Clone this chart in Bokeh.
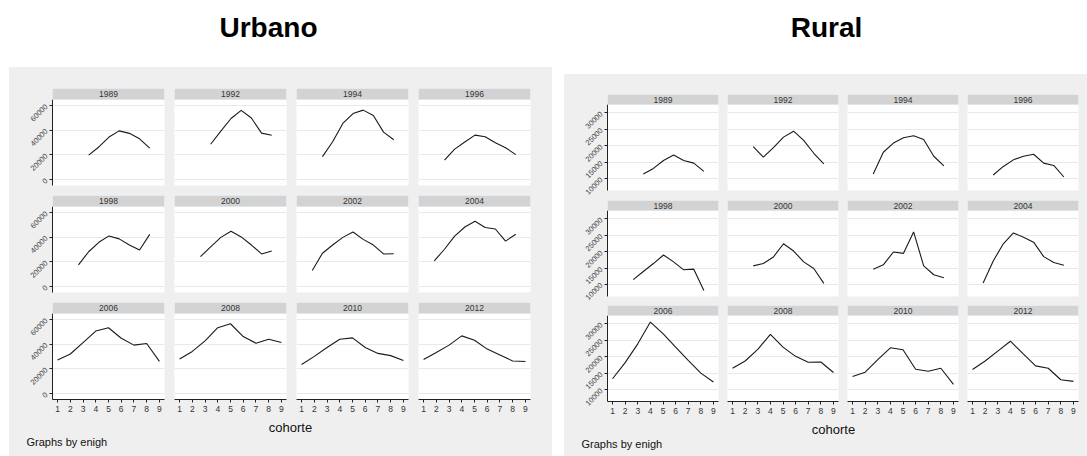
import math
from bokeh.plotting import figure
from bokeh.layouts import row, column
from bokeh.models import Range1d, FixedTicker, BoxAnnotation, Label, Spacer, LinearAxis, Grid
from bokeh.embed import file_html
from bokeh.resources import INLINE

# ---------------------------------------------------------------- data
years = ["1989", "1992", "1994", "1996", "1998", "2000",
         "2002", "2004", "2006", "2008", "2010", "2012"]

# cohort positions used by the earlier surveys and by 2006-2012
pos_early = [1.84, 2.64, 3.44, 4.24, 5.04, 5.84, 6.64, 7.44, 8.24]
pos_late = [1, 2, 3, 4, 5, 6, 7, 8, 9]

# first cohort index present in each survey (0-based)
first_urb = [2, 2, 1, 1, 1, 1, 0, 0, 0, 0, 0, 0]
first_rur = [2, 1, 1, 1, 1, 1, 1, 0, 0, 0, 0, 0]

urb_1989 = [19800, 26400, 34400, 39400, 37400, 33000, 25400]
urb_1992 = [28600, 39200, 49400, 56000, 49800, 37600, 35800]
urb_1994 = [18600, 30600, 45400, 53400, 56200, 51800, 38400, 32200]
urb_1996 = [15800, 24600, 30400, 36000, 34600, 29800, 25800, 20200]
urb_1998 = [17600, 28200, 35800, 41000, 38600, 33600, 29600, 42200]
urb_2000 = [24200, 32200, 39800, 44800, 40200, 33600, 26400, 28800]
urb_2002 = [13000, 27000, 33600, 39800, 44200, 38200, 33600, 26400, 26600]
urb_2004 = [20800, 30200, 40800, 48200, 52800, 47800, 46600, 36800, 42400]
urb_2006 = [27200, 32000, 41300, 50600, 53300, 44800, 39200, 40500, 26100]
urb_2008 = [28000, 34100, 42700, 53300, 56500, 46100, 40800, 44000, 41300]
urb_2010 = [23500, 30100, 37300, 44000, 45100, 37300, 32500, 30700, 26700]
urb_2012 = [27500, 33300, 39200, 46700, 43200, 36000, 31200, 26400, 25900]

rur_1989 = [11400, 13100, 15500, 17200, 15500, 14700, 12200]
rur_1992 = [19700, 16500, 19400, 22600, 24400, 21600, 17700, 14500]
rur_1994 = [11400, 18000, 20800, 22400, 23000, 21900, 16800, 13900]
rur_1996 = [11100, 13700, 15700, 16800, 17400, 14700, 14000, 10500]
rur_1998 = [11500, 14000, 16400, 19000, 16900, 14500, 14700, 8200]
rur_2000 = [15700, 16400, 18400, 22400, 20200, 16900, 14900, 10400]
rur_2002 = [14700, 16000, 19900, 19500, 26000, 15700, 13000, 12100]
rur_2004 = [10500, 17200, 22400, 25700, 24400, 22900, 18500, 16700, 15900]
rur_2006 = [13300, 18200, 23900, 30500, 27000, 22900, 18900, 15000, 12300]
rur_2008 = [16500, 18700, 22200, 26800, 22900, 20100, 18300, 18400, 15200]
rur_2010 = [14000, 15300, 19100, 22700, 22100, 16200, 15600, 16500, 11600]
rur_2012 = [16100, 18700, 21700, 24700, 20900, 17200, 16500, 13000, 12500]

urb_series = [urb_1989, urb_1992, urb_1994, urb_1996, urb_1998, urb_2000,
              urb_2002, urb_2004, urb_2006, urb_2008, urb_2010, urb_2012]
rur_series = [rur_1989, rur_1992, rur_1994, rur_1996, rur_1998, rur_2000,
              rur_2002, rur_2004, rur_2006, rur_2008, rur_2010, rur_2012]

x_ticks = [1, 2, 3, 4, 5, 6, 7, 8, 9]
urb_yticks = [0, 20000, 40000, 60000]
rur_yticks = [10000, 15000, 20000, 25000, 30000]

# ---------------------------------------------------------------- style
FONT = "Liberation Sans"
BG = "#efefef"
STRIP = "#d3d3d3"
STRIP_EDGE = "#dce6ee"
GRID = "#e9e9e9"
LINE = "#1a1a1a"
GRAY_BOX = {"background-color": BG}


def cohort_x(i, first):
    pos = pos_late if i >= 8 else pos_early
    return pos[first:]


def make_panel(xs, ys, year, width, height, borders, yr, strip_top, yticks,
               show_y, show_x):
    left, right, top, bottom = borders
    ylo, yhi = yr
    p = figure(width=width, height=height,
               x_range=Range1d(0.6, 9.4), y_range=Range1d(ylo, strip_top),
               x_axis_location=None, y_axis_location=None,
               toolbar_location=None, output_backend="svg", title=None,
               min_border_left=left, min_border_right=right,
               min_border_top=top, min_border_bottom=bottom,
               background_fill_color="white", border_fill_color=BG,
               outline_line_color=None, styles=GRAY_BOX)
    p.center = []
    p.add_layout(Grid(dimension=1, ticker=FixedTicker(ticks=yticks),
                      grid_line_color=GRID, grid_line_width=1.2))
    p.line(xs, ys, line_color=LINE, line_width=1.1)

    p.add_layout(BoxAnnotation(left=0.6, right=9.4, bottom=yhi, top=strip_top,
                               fill_color=STRIP, fill_alpha=1.0,
                               line_color=STRIP_EDGE, line_alpha=1.0,
                               line_width=1))
    p.add_layout(Label(x=5.0, y=(yhi + strip_top) / 2, text=year,
                       text_align="center", text_baseline="middle",
                       text_font=FONT, text_font_size="8.5px",
                       text_color="#333333"))

    if show_y:
        ax = LinearAxis(ticker=FixedTicker(ticks=yticks), bounds=(ylo, yhi),
                        major_label_orientation=math.pi / 4,
                        major_label_text_font=FONT,
                        major_label_text_font_size="7.5px",
                        major_label_text_color="#444444",
                        major_tick_out=3, major_tick_in=0,
                        minor_tick_out=0, minor_tick_in=0,
                        major_label_standoff=3,
                        axis_line_color="#222222", major_tick_line_color="#222222")
        p.add_layout(ax, "left")
    if show_x:
        ax = LinearAxis(ticker=FixedTicker(ticks=x_ticks),
                        major_label_text_font=FONT,
                        major_label_text_font_size="8.5px",
                        major_label_text_color="#333333",
                        major_tick_out=3, major_tick_in=0,
                        minor_tick_out=0, minor_tick_in=0,
                        major_label_standoff=3,
                        axis_line_color="#222222", major_tick_line_color="#222222")
        p.add_layout(ax, "below")
    return p


def text_fig(width, height, bg, labels):
    p = figure(width=width, height=height,
               x_range=Range1d(0, width), y_range=Range1d(height, 0),
               x_axis_location=None, y_axis_location=None,
               toolbar_location=None, output_backend="svg", title=None,
               min_border=0, background_fill_color=bg, border_fill_color=bg,
               outline_line_color=None, styles={"background-color": bg})
    p.center = []
    for lab in labels:
        p.add_layout(lab)
    return p


def make_block(series, firsts, name, col_w, col_borders, row_h, row_borders,
               yr, strip_top, yticks, title_h, title_x, footer_h, axis_x,
               note_x):
    rows = []
    for r in range(3):
        cells = []
        for c in range(4):
            i = r * 4 + c
            xs = cohort_x(i, firsts[i])
            b = (col_borders[c][0], col_borders[c][1],
                 row_borders[r][0], row_borders[r][1])
            cells.append(make_panel(xs, series[i], years[i], col_w[c], row_h[r], b,
                                    yr, strip_top, yticks,
                                    show_y=(c == 0), show_x=(r == 2)))
        rows.append(row(*cells, styles=GRAY_BOX))
    total_w = sum(col_w)
    head = text_fig(total_w, title_h, "white", [
        Label(x=title_x, y=27, text=name, text_align="center",
              text_baseline="middle", text_font=FONT, text_font_size="28px",
              text_font_style="bold", text_color="#000000")])
    foot = text_fig(total_w, footer_h, BG, [
        Label(x=axis_x, y=8, text="cohorte", text_align="center",
              text_baseline="middle", text_font=FONT, text_font_size="13px",
              text_color="#111111"),
        Label(x=note_x, y=22, text="Graphs by enigh", text_align="left",
              text_baseline="middle", text_font=FONT, text_font_size="11px",
              text_color="#111111")])
    grid = column(*rows, foot, styles=GRAY_BOX)
    return column(head, grid)


left_block = make_block(
    urb_series, first_urb, "Urbano",
    col_w=[160, 122, 122, 139],
    col_borders=[(43, 5), (5, 5), (5, 5), (5, 22)],
    row_h=[123, 107, 122], row_borders=[(21, 5), (5, 5), (5, 20)],
    yr=(-4800, 64800), strip_top=73700, yticks=urb_yticks,
    title_h=67, title_x=259, footer_h=37, axis_x=281, note_x=17)

right_block = make_block(
    rur_series, first_rur, "Rural",
    col_w=[158, 120, 120, 125],
    col_borders=[(43, 4), (5, 4), (5, 4), (5, 9)],
    row_h=[121, 105, 121], row_borders=[(20, 5), (5, 4), (5, 20)],
    yr=(6400, 32500), strip_top=35535, yticks=rur_yticks,
    title_h=74, title_x=262, footer_h=35, axis_x=269, note_x=17)

page = row(Spacer(width=9, height=456), left_block, Spacer(width=12, height=456),
           right_block)

open("out.html", "w").write(file_html(page, INLINE))
